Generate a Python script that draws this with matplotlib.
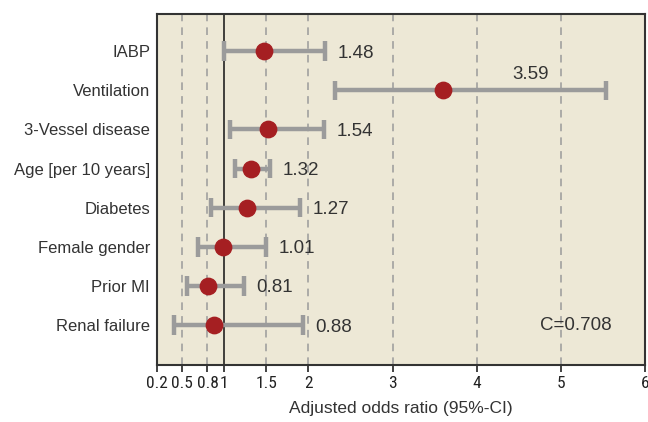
import matplotlib
matplotlib.use("Agg")
import matplotlib.pyplot as plt
from matplotlib import font_manager

categories = ["IABP", "Ventilation", "3-Vessel disease", "Age [per 10 years]",
              "Diabetes", "Female gender", "Prior MI", "Renal failure"]
odds = [1.48, 3.59, 1.54, 1.32, 1.27, 1.01, 0.81, 0.88]
point_pos = [1.477, 3.597, 1.525, 1.322, 1.270, 0.988, 0.812, 0.872]
ci_low = [1.00, 2.32, 1.07, 1.13, 0.84, 0.69, 0.56, 0.40]
ci_high = [2.20, 5.54, 2.18, 1.54, 1.90, 1.49, 1.23, 1.93]
xticks = [0.2, 0.5, 0.8, 1, 1.5, 2, 3, 4, 5, 6]
xtick_labels = ["0.2", "0.5", "0.8", "1", "1.5", "2", "3", "4", "5", "6"]
dashed_at = [0.5, 0.8, 1.5, 2, 3, 4, 5]
c_stat = "C=0.708"

plt.rcParams['font.family'] = ['Liberation Sans', 'DejaVu Sans']

names = {f.name for f in font_manager.fontManager.ttflist}
narrow = None
for cand in ["Liberation Sans Narrow", "Roboto Condensed", "Open Sans Condensed",
             "Noto Sans Condensed", "DejaVu Sans Condensed"]:
    if cand in names:
        narrow = cand
        break
tick_font = dict(family=[narrow] if narrow else ['DejaVu Sans'],
                 stretch='condensed')

fig = plt.figure(figsize=(6.48, 4.22), dpi=100)
ax = fig.add_axes([157/648, 1 - 365/422, (645-157)/648, (365-14)/422])
bg = "#ede8d6"
ax.set_facecolor(bg)

n = len(categories)
ys = [n - 1 - i for i in range(n)]

for x in dashed_at:
    ax.axvline(x, color="#9a9a9a", lw=1.1, ls=(0, (5, 4)), zorder=1)
ax.axvline(1, color="#111111", lw=1.1, zorder=1)

gray = "#9b9b9b"
for y, lo, hi, p, v in zip(ys, ci_low, ci_high, point_pos, odds):
    ax.plot([lo, hi], [y, y], color=gray, lw=3.2, solid_capstyle="butt", zorder=2)
    for cx in (lo, hi):
        ax.plot([cx, cx], [y - 0.25, y + 0.25], color=gray, lw=3.2,
                solid_capstyle="butt", zorder=2)
    ax.plot([p], [y], marker="o", ms=11.8, color="#a51f22", mec="#a51f22", zorder=3)

for i, (y, hi, v) in enumerate(zip(ys, ci_high, odds)):
    if categories[i] == "Ventilation":
        ax.text(hi - 0.9, y + 0.4, f"{v:.2f}", ha="center", va="center",
                fontsize=13.5, color="#333333")
    else:
        ax.text(hi + 0.15, y - 0.05, f"{v:.2f}", ha="left", va="center",
                fontsize=13.5, color="#333333")

ax.text(5.18, -0.02, c_stat, ha="center", va="center", fontsize=13.5, color="#333333")

ax.set_xlim(0.2, 6)
ax.set_ylim(-1.02, 7.95)
ax.set_xticks(xticks)
ax.set_xticklabels(xtick_labels, fontsize=12.5, color="#222222", **tick_font)
ax.set_yticks(ys)
ax.set_yticklabels(categories, fontsize=12, color="#333333")
ax.tick_params(axis="y", length=0, pad=5)
ax.tick_params(axis="x", length=5, width=1.2, color="#222222", pad=3)
for s in ax.spines.values():
    s.set_color("#333333")
    s.set_linewidth(1.5)
ax.set_xlabel("Adjusted odds ratio (95%-CI)", fontsize=12.5, color="#333333", labelpad=7)

fig.savefig("out.png", dpi=100, facecolor="white")
